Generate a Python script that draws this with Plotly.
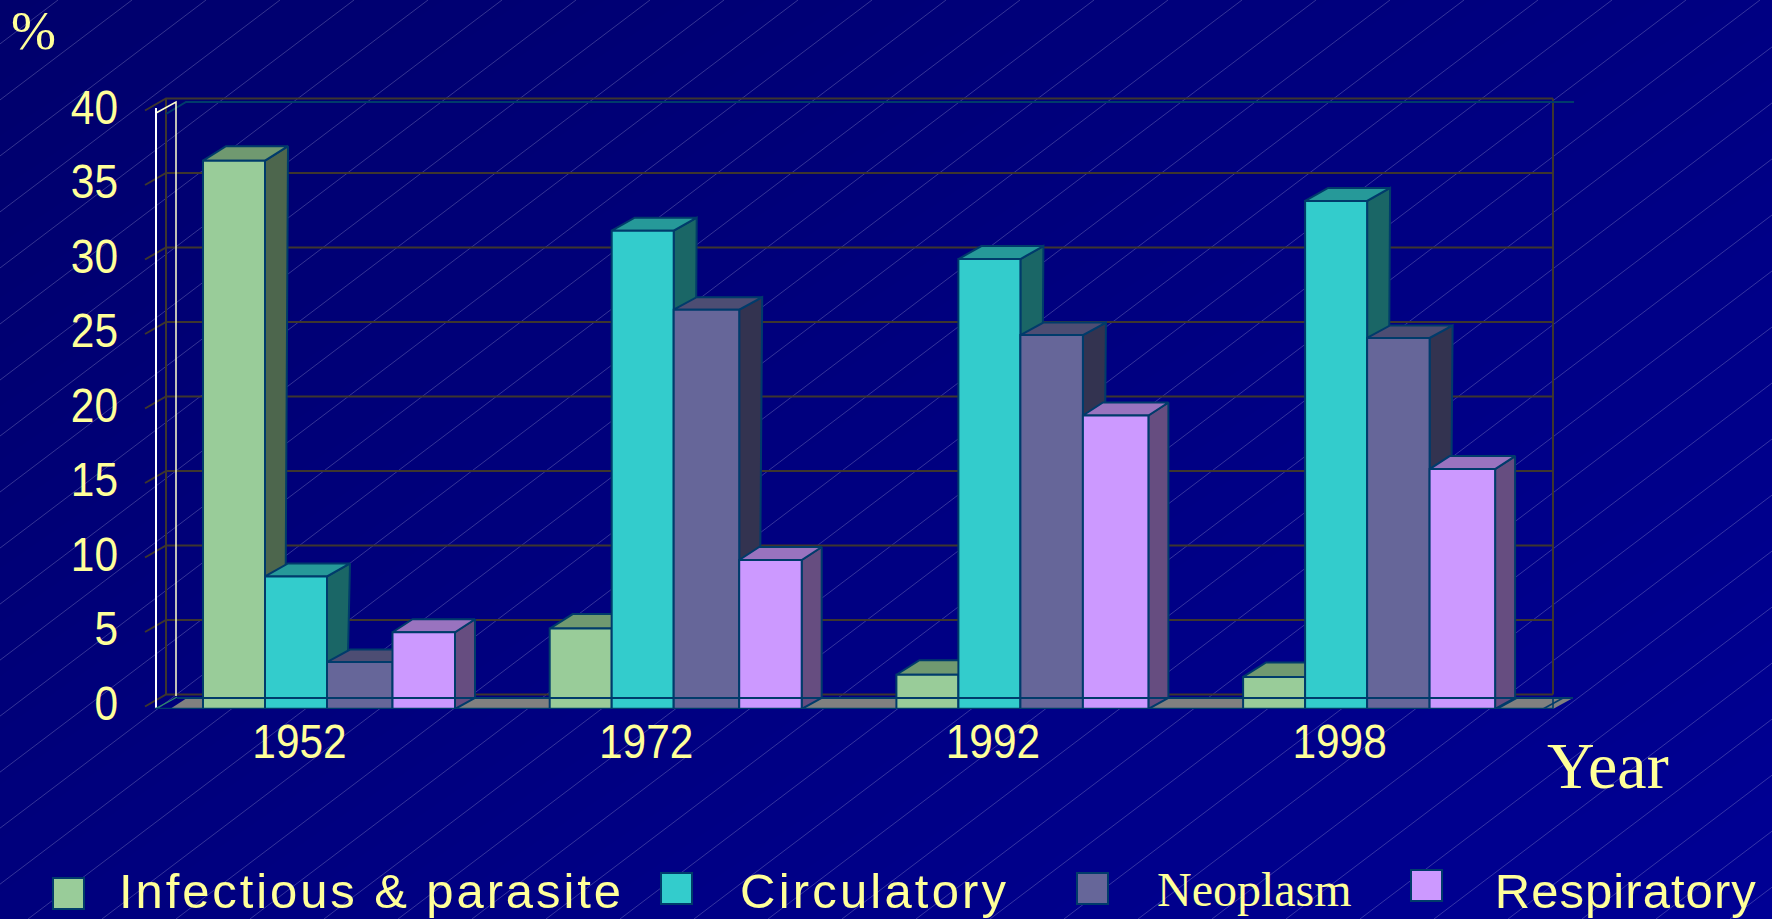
import json
import plotly.graph_objects as go

# ---------- data ----------
YEARS = ["1952", "1972", "1992", "1998"]
SERIES = ["Infectious & parasite", "Circulatory", "Neoplasm", "Respiratory"]
INFECTIOUS = [36.8, 5.4, 2.3, 2.15]
CIRCULATORY = [8.9, 32.1, 30.2, 34.1]
NEOPLASM = [3.15, 26.8, 25.1, 24.9]
RESPIRATORY = [5.15, 10.0, 19.7, 16.1]
Y_TICKS = [0, 5, 10, 15, 20, 25, 30, 35, 40]

# ---------- styles ----------
W, H = 1772, 919
FRONT = ["#99CC99", "#33CCCC", "#666699", "#CC99FF"]
TOP = ["#709970", "#269999", "#4D4D73", "#9973BF"]
SIDE = ["#4D664D", "#1A6666", "#333350", "#664D80"]
EDGE = "#003B6B"
GRID = "#3E362E"
TXT = "#FFFF99"

PX_X0, PX_PER_X = 299.5, 346.7       # pixel of first category, pixels per category
PX_Y0, PX_PER_V = 709.0, 14.9        # pixel of value 0, pixels per unit
PLOT_L, PLOT_R, PLOT_T = 120, 1650, 60


def xd(px):
    return (px - PX_X0) / PX_PER_X


def dx_(px):
    return px / PX_PER_X


def dv(px):
    return px / PX_PER_V


BAR_START = -96.5          # first bar's left edge relative to category, px
# bar widths in px, per series and per category
BAR_W = [[62, 62, 62, 62], [62, 62, 62, 62], [65.5, 65.5, 62.5, 62.5], [62.5, 62.5, 65.5, 65.5]]
DEPTH_X = [23, 23, 23, 20]
DEPTH_Y = [14.5, 13, 12.5, 13]
BASE_DX, BASE_DY = 20, 11

fig = go.Figure()

# ---------- background ----------
fig.add_trace(go.Heatmap(
    x=[0, W], y=[0, H], z=[[108, 130], [125, 148]], zmin=100, zmax=150,
    colorscale=[[0, "rgb(0,0,100)"], [1, "rgb(0,0,150)"]],
    zsmooth="best", showscale=False, hoverinfo="skip", xaxis="x", yaxis="y"))
hx, hy = [], []
SLOPE, STEP, PHASE = 0.757, 74, 58
k = -20
while PHASE + STEP * k < W + H / SLOPE:
    x0 = PHASE + STEP * k
    hx += [x0, x0 - H / SLOPE, None]
    hy += [0, H, None]
    k += 1
fig.add_trace(go.Scatter(x=hx, y=hy, mode="lines", hoverinfo="skip", showlegend=False,
                         line=dict(color="rgba(190,190,230,0.28)", width=1), xaxis="x", yaxis="y"))


def poly(xs, ys, fill=None, color=EDGE, width=2):
    fig.add_trace(go.Scatter(
        x=xs, y=ys, mode="lines", showlegend=False, hoverinfo="skip", cliponaxis=False,
        fill="toself" if fill else None, fillcolor=fill,
        line=dict(color=color, width=width), xaxis="x2", yaxis="y2"))


# ---------- floor ----------
poly([xd(170), xd(1553), xd(1573), xd(187), xd(170)],
     [0, 0, dv(11), dv(11), 0], fill="#808080", color="rgba(0,0,0,0)", width=0)

# ---------- back wall ----------
BACK_L, BACK_R, BACK_DV = 166, 1553, dv(14.5)
gx, gy = [], []
for v in Y_TICKS:
    gx += [xd(BACK_L - 21), xd(BACK_L), xd(BACK_R), None]
    gy += [v + BACK_DV - dv(12), v + BACK_DV, v + BACK_DV, None]
poly(gx, gy, color=GRID, width=2)
poly([xd(BACK_L), xd(BACK_L), None, xd(BACK_R), xd(BACK_R)],
     [BACK_DV, 40 + BACK_DV, None, BACK_DV, 40 + BACK_DV], color=GRID, width=2)

# ---------- outer frame ----------
poly([xd(166), xd(186), xd(1574)], [dv(595), dv(607), dv(607)], color=EDGE, width=2)
poly([xd(156), xd(176), xd(176)],
     [dv(596), dv(607), dv(13)], color="#FFFFCC", width=1.5)
poly([xd(156), xd(156)], [0, dv(601)], color="#FFFFFF", width=2)
poly([xd(155), xd(177)], [0, dv(12)], color="#2E8B6B", width=1.4)

# ---------- bars ----------
ALL = [INFECTIOUS, CIRCULATORY, NEOPLASM, RESPIRATORY]
for s, vals in enumerate(ALL):
    sx, sy, tx, ty, fx, fy = [], [], [], [], [], []
    for c, v in enumerate(vals):
        left_off = BAR_START + sum(BAR_W[i][c] for i in range(s))
        x0 = c + dx_(left_off)
        x1 = x0 + dx_(BAR_W[s][c])
        ddx, ddy = dx_(DEPTH_X[s]), dv(DEPTH_Y[s])
        fx += [x0, x1, x1, x0, x0, None]
        fy += [0, 0, v, v, 0, None]
        tx += [x0, x1, x1 + ddx, x0 + ddx, x0, None]
        ty += [v, v, v + ddy, v + ddy, v, None]
        sx += [x1, x1 + dx_(BASE_DX), x1 + ddx, x1, x1, None]
        sy += [0, dv(BASE_DY), v + ddy, v, 0, None]
    poly(sx, sy, fill=SIDE[s])
    poly(tx, ty, fill=TOP[s])
    poly(fx, fy, fill=FRONT[s])

# ---------- floor lines over the bars ----------
poly([xd(155), xd(1553)], [0, 0], color=EDGE, width=2.4)
poly([xd(177), xd(1573)], [dv(11), dv(11)], color=EDGE, width=2)
poly([xd(1497), xd(1517), None, xd(1543), xd(1563), None, xd(1553), xd(1553)],
     [0, dv(11), None, 0, dv(11), None, 0, dv(11)], color=EDGE, width=1.6)

# ---------- text ----------
def note(text, px, py, size, family):
    fig.add_annotation(text=text, xref="paper", yref="paper", x=px / W, y=1 - py / H,
                       xanchor="center", yanchor="middle", showarrow=False,
                       font=dict(size=size, family=family, color=TXT),
                       borderpad=0, borderwidth=0)


SERIF = "Liberation Serif"
SANS = "Liberation Sans"
note("%", 33, 31, 54, SERIF)
note("Year", 1608, 765, 66, SERIF)
note(SERIES[0], 370, 891, 49, SANS)
note(SERIES[1], 873, 891, 49, SANS)
note(SERIES[2], 1254, 889, 48, SERIF)
note(SERIES[3], 1625, 891, 49, SANS)

# horizontal fit of the narrow reference lettering (width px, how)
FIT = {SERIES[0]: [502, "spacing"], SERIES[1]: [266, "spacing"], SERIES[3]: [261, "spacing"]}
DIGIT_W = 23.6

SWATCHES = [(53, 878), (661, 873), (1077, 873), (1411, 870)]
shapes = []
for (sx0, sy0), col in zip(SWATCHES, FRONT):
    shapes.append(dict(type="rect", xref="paper", yref="paper", x0=sx0 / W, x1=(sx0 + 31) / W,
                       y0=1 - sy0 / H, y1=1 - (sy0 + 31) / H, fillcolor=col,
                       line=dict(color=EDGE, width=2)))

AXFONT = dict(size=48, family=SANS, color=TXT)
fig.update_layout(
    template="none",
    width=W, height=H, margin=dict(l=0, r=0, t=0, b=0, pad=0), autosize=False,
    paper_bgcolor="#000080", plot_bgcolor="rgba(0,0,0,0)", showlegend=False, shapes=shapes,
    xaxis=dict(domain=[0, 1], range=[0, W], visible=False, fixedrange=True, automargin=False),
    yaxis=dict(domain=[0, 1], range=[H, 0], visible=False, fixedrange=True, automargin=False),
    xaxis2=dict(domain=[PLOT_L / W, PLOT_R / W], range=[xd(PLOT_L), xd(PLOT_R)], anchor="y2",
                tickmode="array", tickvals=list(range(len(YEARS))), ticktext=YEARS, automargin=False,
                showgrid=False, zeroline=False, showline=False, ticks="",
                ticklabelstandoff=0, tickfont=AXFONT, tickangle=0),
    yaxis2=dict(domain=[1 - PX_Y0 / H, 1 - PLOT_T / H], range=[0, (PX_Y0 - PLOT_T) / PX_PER_V],
                anchor="x2", tickmode="array", tickvals=Y_TICKS, automargin=False,
                showgrid=False, zeroline=False, showline=False, ticks="",
                ticklabelstandoff=1, ticklabelshift=-6, tickfont=AXFONT),
)

POST = """
document.body.style.margin='0';document.documentElement.style.overflow='hidden';
var FIT=%s,DW=%s;
function fit(el,w,m){el.setAttribute('textLength',w);el.setAttribute('lengthAdjust',m);}
var gd=document.querySelector('.plotly-graph-div');
gd.querySelectorAll('.x2tick text,.y2tick text').forEach(function(t){
  fit(t,t.textContent.length*DW,'spacingAndGlyphs');});
gd.querySelectorAll('.annotation-text').forEach(function(t){
  var f=FIT[t.textContent]; if(f){fit(t,f[0],f[1]);}});
""" % (json.dumps(FIT), DIGIT_W)

fig.write_html("out.html", config=dict(displayModeBar=False), post_script=POST)
